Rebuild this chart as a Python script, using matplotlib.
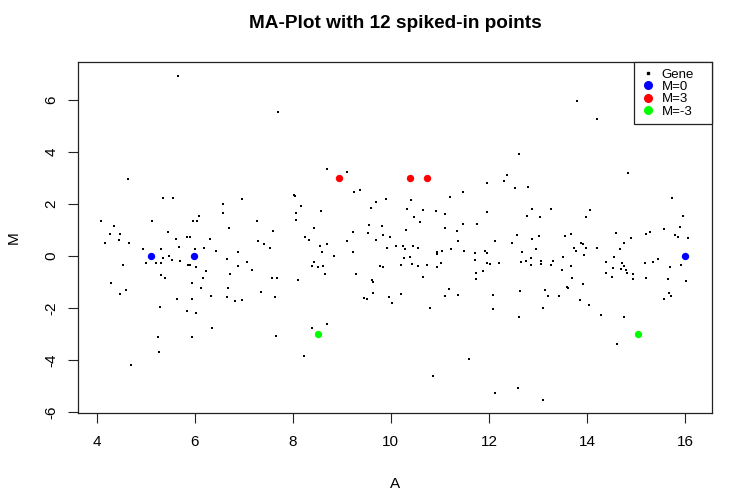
import matplotlib
matplotlib.use("Agg")
import matplotlib.pyplot as plt
from matplotlib.lines import Line2D

plt.rcParams['font.family'] = ['Liberation Sans', 'DejaVu Sans']

# Gene points (A, M)
gene_A = [
    5.65, 7.69, 4.63, 5.36, 5.55, 8.03, 6.57, 6.97, 6.57, 6.08, 4.08, 5.12, 5.97, 6.05, 7.27,
    4.35, 6.69, 4.27, 4.48, 5.45, 7.60, 4.46, 5.61, 5.85, 5.91, 6.31, 7.29,
    8.69, 9.10, 12.31, 11.96, 11.48, 9.25, 9.38, 8.04, 9.90, 11.20, 10.41, 9.69, 8.16, 9.59,
    8.57, 10.32, 10.65, 10.92, 11.10, 11.96, 8.06, 8.06, 10.47, 10.59, 9.55, 9.82, 8.43, 10.31,
    11.11, 11.47, 11.76, 11.35, 9.22, 9.53, 9.84, 9.98, 8.25, 8.33, 9.69, 12.12, 9.11, 11.37,
    13.80, 14.20, 12.61, 14.84, 12.36, 12.53, 12.79, 15.73, 12.87, 13.26, 14.07, 12.77, 13.04,
    13.98, 15.95, 15.90, 15.58, 12.58, 12.87, 13.02, 13.55, 13.67, 14.60, 14.90, 15.20, 15.29,
    15.79, 15.86, 16.07,
    4.18, 4.65, 7.41, 7.54, 4.94, 5.32, 5.69, 6.00, 6.18, 6.44, 6.89, 5.47, 5.35, 5.53, 5.71,
    6.65, 7.06, 4.54, 5.00, 5.22, 5.31, 5.86, 5.90, 6.02, 6.88, 6.23, 7.16, 6.73, 5.31, 5.39,
    6.17, 7.57, 7.67, 4.29, 5.94, 4.59, 6.12, 6.67, 4.47, 7.35, 6.33, 6.65, 7.63, 5.63, 5.94,
    6.83, 6.96, 5.29, 5.84, 6.02, 6.35, 5.25, 5.94, 7.65, 5.27, 4.71,
    8.69, 8.55, 9.22, 8.59, 8.84, 9.93, 10.10, 10.25, 10.29, 10.45, 10.56, 10.94, 10.94, 11.04,
    11.22, 11.50, 11.71, 11.92, 11.96, 11.71, 11.96, 12.02, 12.20, 10.27, 10.39, 8.43, 8.39,
    8.51, 8.62, 9.78, 9.84, 10.20, 10.43, 10.55, 10.73, 10.94, 11.02, 11.73, 11.88, 8.65, 9.29,
    10.65, 11.73, 8.10, 9.61, 9.63, 11.19, 12.09, 11.10, 11.36, 9.63, 10.20, 9.45, 9.51, 9.96,
    10.02, 10.80, 12.08, 8.69, 8.39, 8.22, 11.59, 10.86, 12.13,
    12.47, 13.88, 13.92, 14.75, 12.67, 12.97, 13.73, 13.78, 13.98, 14.20, 14.67, 13.94, 14.56,
    13.51, 12.86, 15.44, 12.66, 12.75, 12.86, 13.06, 13.06, 13.26, 13.31, 13.67, 14.38, 14.71,
    14.75, 15.18, 15.35, 15.69, 15.92, 13.50, 14.53, 14.69, 14.80, 14.39, 14.81, 14.94, 13.69,
    14.51, 14.94, 15.20, 15.65, 16.02, 13.92, 13.59, 13.61, 12.63, 13.14, 13.20, 13.43, 15.67,
    15.71, 15.57, 13.86, 13.10, 14.04, 12.61, 14.29, 14.75, 14.61, 12.59, 13.10,
]
gene_M = [
    6.92, 5.54, 2.97, 2.23, 2.23, 2.33, 2.01, 2.20, 1.65, 1.54, 1.36, 1.36, 1.33, 1.36, 1.36,
    1.17, 1.09, 0.84, 0.84, 0.92, 0.95, 0.61, 0.64, 0.73, 0.73, 0.67, 0.56,
    3.36, 3.23, 2.90, 2.81, 2.46, 2.46, 2.55, 2.32, 2.20, 2.27, 2.14, 2.08, 1.92, 1.84,
    1.73, 1.81, 1.78, 1.74, 1.61, 1.69, 1.65, 1.38, 1.49, 1.29, 1.19, 1.14, 1.08, 1.00,
    1.08, 1.23, 1.23, 0.96, 0.92, 0.87, 0.82, 0.73, 0.73, 0.61, 0.61, 0.57, 0.56, 0.56,
    5.97, 5.28, 3.93, 3.20, 3.10, 2.63, 2.65, 2.24, 1.82, 1.82, 1.78, 1.54, 1.51,
    1.51, 1.55, 1.13, 1.05, 0.82, 0.67, 0.78, 0.78, 0.84, 0.87, 0.70, 0.86, 0.93,
    0.82, 0.74, 0.70,
    0.50, 0.51, 0.46, 0.31, 0.27, 0.27, 0.35, 0.27, 0.31, 0.19, 0.15, 0.01, -0.08, -0.15, -0.18,
    -0.12, -0.23, -0.35, -0.28, -0.27, -0.28, -0.35, -0.35, -0.42, -0.38, -0.56, -0.53, -0.69, -0.74, -0.83,
    -0.86, -0.85, -0.85, -1.03, -1.04, -1.31, -1.23, -1.23, -1.46, -1.38, -1.54, -1.58, -1.58, -1.64, -1.65,
    -1.73, -1.69, -1.96, -2.12, -2.19, -2.77, -3.12, -3.12, -3.08, -3.69, -4.19,
    0.46, 0.38, 0.15, 0.15, -0.01, 0.31, 0.37, 0.39, 0.27, 0.39, 0.32, 0.15, 0.08, 0.19,
    0.28, 0.21, 0.13, 0.21, 0.12, -0.15, -0.27, -0.31, -0.27, -0.08, -0.04, -0.23, -0.38,
    -0.44, -0.37, -0.38, -0.41, -0.35, -0.31, -0.37, -0.35, -0.41, -0.27, -0.65, -0.58, -0.69, -0.68,
    -0.81, -0.87, -0.91, -0.91, -1.01, -1.27, -1.50, -1.55, -1.50, -1.42, -1.46, -1.60, -1.64, -1.58,
    -1.81, -2.00, -2.03, -2.62, -2.78, -3.85, -3.96, -4.62, -5.27,
    0.50, 0.50, 0.46, 0.50, 0.15, 0.27, 0.32, 0.19, 0.31, 0.32, 0.27, 0.04, -0.04,
    -0.04, -0.08, -0.12, -0.24, -0.19, -0.35, -0.19, -0.31, -0.35, -0.19, -0.37, -0.22, -0.27,
    -0.37, -0.27, -0.22, -0.42, -0.35, -0.54, -0.46, -0.50, -0.54, -0.65, -0.65, -0.69, -0.85,
    -0.81, -0.87, -0.85, -0.88, -0.96, -1.08, -1.19, -1.23, -1.35, -1.31, -1.54, -1.54, -1.42,
    -1.54, -1.65, -1.69, -2.00, -1.88, -2.35, -2.27, -2.35, -3.38, -5.08, -5.54,
]

# Spiked-in points
spike0_A = [5.10, 5.99, 15.99]
spike0_M = [0, 0, 0]
spike3_A = [8.95, 10.40, 10.74]
spike3_M = [3, 3, 3]
spikem3_A = [8.52, 15.04]
spikem3_M = [-3, -3]

legend_labels = ['Gene', 'M=0', 'M=3', 'M=-3']
x_ticks = [4, 6, 8, 10, 12, 14, 16]
y_ticks = [-6, -4, -2, 0, 2, 4, 6]

W, H = 736, 497
L, R, T, B = 78, 712, 62, 412.5
fig = plt.figure(figsize=(W / 100, H / 100), dpi=100)
ax = fig.add_axes([L / W, 1 - B / H, (R - L) / W, (B - T) / H])

ax.scatter(gene_A, gene_M, s=2.2, marker='s', c='black', linewidths=0)
ax.scatter(spike0_A, spike0_M, s=28, c='#0000ff', linewidths=0)
ax.scatter(spike3_A, spike3_M, s=28, c='#ff0000', linewidths=0)
ax.scatter(spikem3_A, spikem3_M, s=28, c='#00ff00', linewidths=0)

ax.set_xlim(3.62, 16.55)
ax.set_ylim(-6.02, 7.46)

for side in ['top', 'right', 'left', 'bottom']:
    ax.spines[side].set_linewidth(0.9)
    ax.spines[side].set_color('#222222')

ax.set_xticks(x_ticks)
ax.set_yticks(y_ticks)
ax.tick_params(axis='both', direction='out', length=7.2, width=0.8, labelsize=11,
               color='#222222')
ax.tick_params(axis='x', pad=9)
ax.tick_params(axis='y', pad=7)
ax.set_yticklabels([str(v) for v in y_ticks], rotation=90, va='center')

ax.set_xlabel('A', fontsize=11, labelpad=20)
ax.set_ylabel('M', fontsize=11, labelpad=17)
fig.text((L + R) / 2 / W, 1 - 23 / H, 'MA-Plot with 12 spiked-in points', ha='center',
         va='center', fontsize=13.7, fontweight='bold')

handles = [
    Line2D([], [], marker='s', color='black', linestyle='none', markersize=2),
    Line2D([], [], marker='o', color='#0000ff', linestyle='none', markersize=5.5),
    Line2D([], [], marker='o', color='#ff0000', linestyle='none', markersize=5.5),
    Line2D([], [], marker='o', color='#00ff00', linestyle='none', markersize=5.5),
]
lw = 78 / (R - L)
leg = ax.legend(handles, legend_labels, loc='upper right',
                bbox_to_anchor=(1.0 - lw, 0.0, lw, 1.0), mode='expand',
                borderaxespad=0, fancybox=False,
                edgecolor='#222222', framealpha=1, fontsize=9.5, labelspacing=0.0,
                handletextpad=0.55, handlelength=1.05, borderpad=0.5)
leg.get_frame().set_linewidth(0.9)

fig.savefig('out.png', dpi=100)
